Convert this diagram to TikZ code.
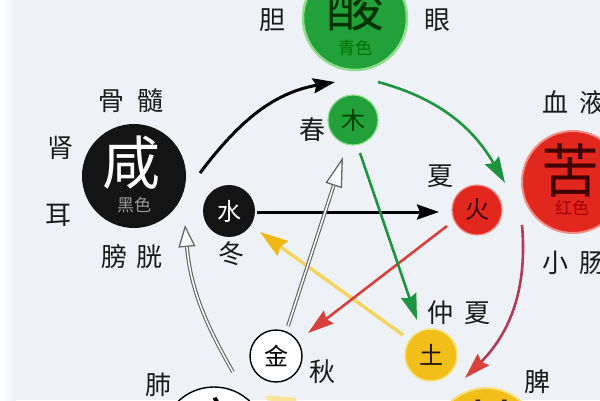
\documentclass[tikz,border=0pt]{standalone}
\usepackage{fontspec}
\newfontfamily\cjk{Noto Sans CJK SC}
\usetikzlibrary{arrows.meta,calc}
\definecolor{bg}{HTML}{EEF2F7}
\definecolor{cgreen}{HTML}{22A03A}
\definecolor{cgreenedge}{HTML}{8FDC8A}
\definecolor{cred}{HTML}{E2271F}
\definecolor{credge}{HTML}{F29088}
\definecolor{cyellow}{HTML}{F2BF1A}
\definecolor{cyedge}{HTML}{F8E07A}
\definecolor{cblack}{HTML}{141414}
\definecolor{agreen}{HTML}{1F9440}
\definecolor{ared}{HTML}{D8403C}
\definecolor{amaroon}{HTML}{B03A55}
\definecolor{ayellow}{HTML}{F4D45A}
\definecolor{ayhead}{HTML}{F0B810}
\definecolor{agray}{HTML}{666666}
\definecolor{txt}{HTML}{1A1A1A}
\begin{document}
\begin{tikzpicture}[x=1pt,y=1pt]
\tikzset{
 bigc/.style={circle, minimum size=104pt, inner sep=0pt},
 smallc/.style={circle, minimum size=50pt, inner sep=0pt, font=\cjk\fontsize{24}{24}\selectfont},
 lbl/.style={text=txt, font=\cjk\fontsize{26}{26}\selectfont, inner sep=0pt},
 bigtxt/.style={font=\cjk\fontsize{58}{58}\selectfont, inner sep=0pt},
 subtxt/.style={font=\cjk\fontsize{17}{17}\selectfont, inner sep=0pt},
 arr/.style={line width=2.6pt, -{Stealth[length=26pt,width=16pt,inset=3pt]}},
 blackarr/.style={line width=3pt, draw=black, -{Stealth[length=22pt,width=15pt,inset=3pt]}},
 hollowout/.style={draw=agray, line width=3.8pt, -{Triangle[open, length=#1, width=17pt, line width=1.3pt, fill=white, color=agray]}},
 hollowin/.style={draw=white, line width=1.5pt, shorten >=#1},
}
\useasboundingbox (0,0) rectangle (600,400);
\clip (0,0) rectangle (600,400);
\fill[bg] (0,0) rectangle (600,400);
\shade[left color=white, right color=bg] (0,0) rectangle (16,400);

% big circles
\node[bigc, fill=cgreen, draw=cgreenedge, line width=2.5pt] (suan) at (355,382) {};
\node[bigc, minimum size=102pt, fill=cred, draw=credge, line width=2pt] (ku) at (573,218) {};
\node[bigc, fill=cyellow, draw=cyedge, line width=2pt] (gan) at (486,-40) {};
\node[bigc, fill=white, draw=black, line width=1.4pt] (xin) at (214,-39) {};
\node[bigc, fill=cblack] (xian) at (134,224) {};

\node[bigtxt, text=black!80!green] (suanT) at ($(suan)+(0,13)$) {酸};
\node[subtxt, text=green!45!black] (suanS) at ($(suan)+(0,-30)$) {青色};
\node[bigtxt, text=black!75!red] (kuT) at ($(ku)+(-3,12)$) {苦};
\node[subtxt, text=red!65!black] (kuS) at ($(ku)+(-1,-26)$) {红色};
\node[bigtxt, text=white] (xianT) at ($(xian)+(-3,13)$) {咸};
\node[subtxt, text=black!40] (xianS) at ($(xian)+(0,-29)$) {黑色};
\node[bigtxt, text=black] (xinT) at ($(xin)+(3,15)$) {辛};
\node[bigtxt, text=black!70!brown] (ganT) at ($(gan)+(5,13)$) {甘};

% small circles
\node[smallc, fill=cgreen, draw=cgreenedge, line width=1.2pt, text=black!75!green] (mu) at (353,280) {木};
\node[smallc, fill=cred, draw=credge, line width=1.2pt, text=black!80!red] (huo) at (477,190) {火};
\node[smallc, minimum size=52pt, fill=cyellow, draw=cyedge, line width=1.5pt, text=black!85!brown] (tu) at (431,45) {土};
\node[smallc, minimum size=52pt, fill=white, draw=black, line width=1.4pt, text=black] (jin) at (276,44) {金};
\node[smallc, minimum size=52pt, fill=cblack, text=white] (shui) at (229,189) {水};

% labels
\node[lbl] (dan) at (272,380) {胆};
\node[lbl] (yan) at (437,380) {眼};
\node[lbl] (gusui) at (131,299) {骨\hspace{13pt}髓};
\node[lbl] (shen) at (60,252) {肾};
\node[lbl] (er) at (58,185) {耳};
\node[lbl] (pangguang) at (132,143) {膀\hspace{10pt}胱};
\node[lbl] (chun) at (312,270) {春};
\node[lbl] (xia) at (440,224) {夏};
\node[lbl] (dong) at (231,146) {冬};
\node[lbl] (zhongxia) at (459,87) {仲\hspace{12pt}夏};
\node[lbl] (qiu) at (322,28) {秋};
\node[lbl] (fei) at (158,15) {肺};
\node[lbl] (pi) at (537,18) {脾};
\node[lbl] (xueye) at (574,297) {血\hspace{11pt}液};
\node[lbl] (xiaochang) at (574,137) {小\hspace{12pt}肠};

% inner arrows
\draw[blackarr] ($(shui)+(28,-1)$) -- ($(huo)+(-38,-2)$);
\draw[arr, draw=ayellow, line width=3.4pt, -{Stealth[length=28pt,width=18pt,inset=3pt,color=ayhead]}] ($(tu)+(-28,20)$) -- ($(shui)+(31,-21)$);
\draw[arr, draw=ared] ($(huo)+(-30,-16)$) -- ($(jin)+(32,23)$);
\draw[arr, draw=agreen] ($(mu)+(7,-33)$) -- ($(tu)+(-14,35)$);
\draw[hollowout=30pt] ($(jin)+(12,30)$) -- ($(mu)+(-10,-37)$);
\draw[hollowin=30pt] ($(jin)+(12,30)$) -- ($(mu)+(-10,-37)$);

% outer arrows
\draw[blackarr] ($(xian)+(66,3)$) to[out=53,in=190] ($(suan)+(-20,-64)$);
\draw[arr, draw=agreen] ($(suan)+(23,-64)$) to[out=-15,in=120] ($(ku)+(-68,-1)$);
\draw[arr, draw=amaroon, -{Stealth[length=26pt,width=16pt,inset=3pt,color=ared]}] ($(ku)+(-51,-43)$) to[out=-85,in=45] ($(gan)+(-21,62)$);
\draw[hollowout=22pt] ($(xin)+(19,67)$) to[out=120,in=-85] ($(xian)+(51,-49)$);
\draw[hollowin=22pt] ($(xin)+(19,67)$) to[out=120,in=-85] ($(xian)+(51,-49)$);
\draw[line width=5pt, draw=ayellow!60, line cap=round] ($(gan)+(-192,40)$) -- ($(xin)+(54,41)$);
\end{tikzpicture}
\end{document}
